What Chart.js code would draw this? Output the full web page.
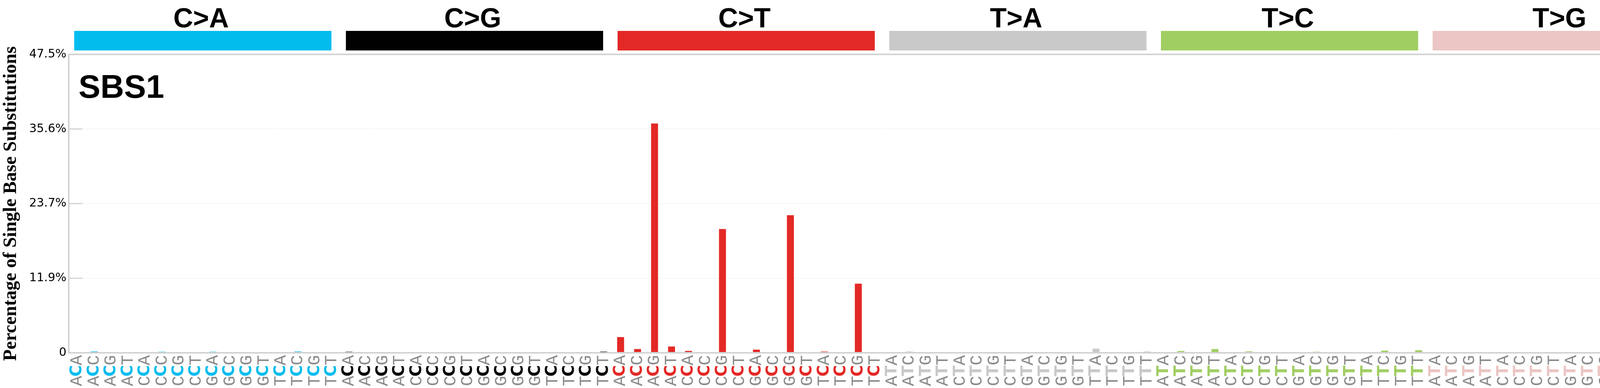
<!DOCTYPE html>
<html><head><meta charset="utf-8">
<script src="https://cdn.jsdelivr.net/npm/chart.js@4"></script>
<style>html,body{margin:0;padding:0;background:#fff;overflow:hidden}canvas{display:block}</style>
</head><body><canvas id="c" width="4393" height="992" style="width:4393px;height:992px"></canvas>
<script>
const groups = ['C>A','C>G','C>T','T>A','T>C','T>G'];
const groupColors = ['#03BCEE','#010101','#E32926','#CAC9C9','#A1CE63','#EBC6C4'];
const contexts = ['ACA','ACC','ACG','ACT','CCA','CCC','CCG','CCT','GCA','GCC','GCG','GCT','TCA','TCC','TCG','TCT'];
const tContexts = ['ATA','ATC','ATG','ATT','CTA','CTC','CTG','CTT','GTA','GTC','GTG','GTT','TTA','TTC','TTG','TTT'];
const valCA = [0.1,0.21,0.06,0.1,0.06,0.17,0,0,0.17,0.06,0.06,0,0,0.21,0,0];
const valCG = [0.17,0.12,0,0.12,0,0,0.04,0,0,0.04,0.04,0,0,0.04,0,0.19];
const valCT = [2.5,0.6,36.5,1.0,0.3,0.1,19.7,0.1,0.5,0,21.9,0,0.2,0,11.0,0];
const valTA = [0.1,0.21,0.1,0.04,0,0.04,0.04,0.04,0,0,0.04,0.04,0.66,0,0,0.21];
const valTC = [0.1,0.29,0,0.6,0,0.23,0.04,0,0.1,0.17,0.1,0,0.04,0.35,0.04,0.41];
const valTG = [0.02,0.02,0.02,0,0,0.02,0,0.02,0,0,0.02,0,0,0,0.02,0];
const yTicks = [0,11.875,23.75,35.625,47.5];
const yTickLabels = ['0','11.9%','23.7%','35.6%','47.5%'];
const signatureName = 'SBS1';
const yTitle = 'Percentage of Single Base Substitutions';

const labels=[], values=[], colors=[], mids=[];
const allVals=[valCA,valCG,valCT,valTA,valTC,valTG];
groups.forEach((g,gi)=>{
  const ctx = gi<3?contexts:tContexts;
  ctx.forEach((c,i)=>{labels.push(c);values.push(allVals[gi][i]);colors.push(groupColors[gi]);mids.push(gi);});
});

const deco = {
  id:'deco',
  afterDraw(chart){
    const {ctx, chartArea:a, scales:{x,y}} = chart;
    ctx.save();
    ctx.strokeStyle='#d3d3d3'; ctx.lineWidth=3;
    yTicks.forEach(t=>{const py=y.getPixelForValue(t);ctx.beginPath();ctx.moveTo(a.left,py);ctx.lineTo(a.left+35,py);ctx.stroke();});
    ctx.lineWidth=4; ctx.strokeRect(a.left,a.top,a.right-a.left,a.bottom-a.top);
    const step = x.getPixelForValue(1)-x.getPixelForValue(0);
    groups.forEach((g,gi)=>{
      const x0 = x.getPixelForValue(gi*16)-step/2;
      const x1 = x0+16*step;
      ctx.fillStyle=groupColors[gi];
      ctx.fillRect(x0+14,79,x1-x0-37,50);
      ctx.fillStyle='#000';ctx.font='bold 70px "Liberation Sans", Arial';ctx.textAlign='center';ctx.textBaseline='alphabetic';
      ctx.fillText(g,(x0+x1)/2-9,70);
    });
    ctx.font='bold 84px "Liberation Sans", Arial';ctx.textAlign='left';ctx.fillStyle='#000';
    ctx.fillText(signatureName,201,250);
    labels.forEach((lab,i)=>{
      const cx=x.getPixelForValue(i);
      const ys=[974,948,921];
      for(let k=0;k<3;k++){
        ctx.save();ctx.translate(cx,0);ctx.rotate(-Math.PI/2);
        ctx.textAlign='center';ctx.textBaseline='middle';
        if(k===1){ctx.font='bold 40px "DejaVu Sans"';ctx.fillStyle=groupColors[mids[i]];}
        else{ctx.font='44px "Liberation Mono", monospace';ctx.fillStyle='#8c8c8c';}
        ctx.fillText(lab[k],-ys[k],0);
        ctx.restore();
      }
    });
    ctx.restore();
  }
};

new Chart(document.getElementById('c'),{
  type:'bar',
  data:{labels,datasets:[{data:values,backgroundColor:colors,barPercentage:0.41,categoryPercentage:1}]},
  options:{
    responsive:false,devicePixelRatio:1,animation:false,
    layout:{padding:{left:0,top:139,right:44,bottom:90}},
    plugins:{legend:{display:false},tooltip:{enabled:false}},
    scales:{
      x:{ticks:{display:false},grid:{display:false},border:{display:false},afterFit(s){s.height=0;}},
      y:{min:0,max:47.5,
        afterBuildTicks(s){s.ticks=yTicks.map(v=>({value:v}));},
        afterFit(s){s.width=176;},
        ticks:{font:{size:30,family:'"DejaVu Sans"'},color:'#000',padding:6,callback:(v,i)=>yTickLabels[i]},
        grid:{color:'#eeeeee',lineWidth:1,drawTicks:false},
        border:{display:false},
        title:{display:true,text:yTitle,font:{family:'"Liberation Serif", "Times New Roman"',weight:'bold',size:48},color:'#000',padding:{top:0,bottom:2}}
      }
    }
  },
  plugins:[deco]
});
</script></body></html>
